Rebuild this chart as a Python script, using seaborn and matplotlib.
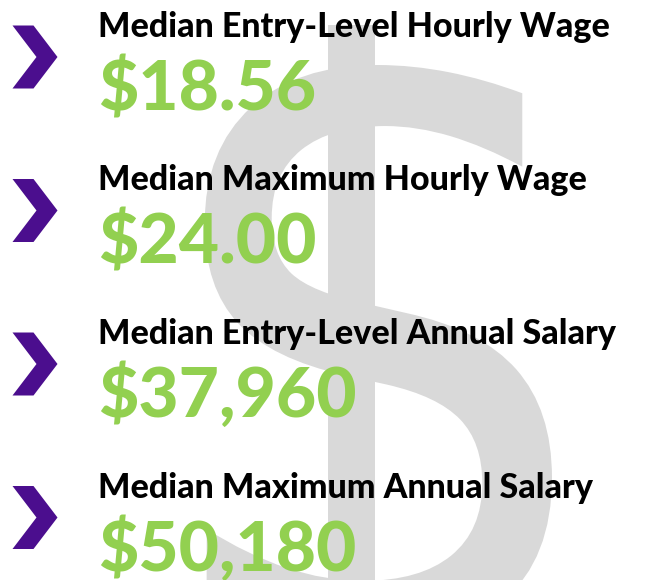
import numpy as np
import matplotlib
matplotlib.use("Agg")
import matplotlib.pyplot as plt
from matplotlib.path import Path
from matplotlib.patches import PathPatch, Rectangle
from matplotlib.textpath import TextPath
from matplotlib.font_manager import FontProperties
from matplotlib.transforms import Affine2D
import seaborn as sns

# Data
labels = [
    "Median Entry-Level Hourly Wage",
    "Median Maximum Hourly Wage",
    "Median Entry-Level Annual Salary",
    "Median Maximum Annual Salary",
]
values = ["$18.56", "$24.00", "$37,960", "$50,180"]

# Colours
purple = "#4b0e8e"
green = "#92d050"
grey = "#d9d9d9"

sns.set_theme(style="white")
plt.rcParams["font.family"] = ["Lato", "DejaVu Sans"]

W, H = 647, 580
fig = plt.figure(figsize=(W / 100, H / 100), dpi=100)
ax = fig.add_axes([0, 0, 1, 1])
ax.set_xlim(0, W)
ax.set_ylim(H, 0)
ax.axis("off")

# big background dollar sign: an "S" stretched into a box plus a vertical bar
s_path = TextPath((0, 0), "S", size=100, prop=FontProperties(family="DejaVu Sans"))
v = s_path.vertices
x0, x1 = v[:, 0].min(), v[:, 0].max()
y0, y1 = v[:, 1].min(), v[:, 1].max()
box_l, box_r, box_t, box_b = 160, 552, 65, 642
tr = (Affine2D().translate(-x0, -y1)
      .scale((box_r - box_l) / (x1 - x0), -(box_b - box_t) / (y1 - y0))
      .translate(box_l, box_t))
ax.add_patch(PathPatch(tr.transform_path(s_path), color=grey, lw=0, zorder=0))
ax.add_patch(Rectangle((328, 25), 47, 640, color=grey, lw=0, zorder=0))

# chevron marker
chev = Path([(-22.5, 31.5), (-1.5, 31.5), (22.5, 0), (-1.5, -31.5),
             (-22.5, -31.5), (1.5, 0), (-22.5, 31.5)],
            [Path.MOVETO] + [Path.LINETO] * 5 + [Path.CLOSEPOLY])

rows = np.arange(len(labels))
row_step = 153.5
chev_x = np.full(len(labels), 35.0)
chev_y = 57 + rows * row_step
sns.scatterplot(x=chev_x, y=chev_y, marker=chev, s=(63 * 0.72) ** 2,
                color=purple, edgecolor="none", ax=ax, legend=False, zorder=3)
ax.set_xlim(0, W)
ax.set_ylim(H, 0)

titles = []
for i, (lab, val) in enumerate(zip(labels, values)):
    yo = i * row_step
    t = ax.text(98, 37 + yo, lab, fontsize=22, fontweight="black", color="black",
                ha="left", va="baseline", zorder=4)
    titles.append(t)
    ax.text(98, 110 + yo, val, fontsize=50, fontweight="black", color=green,
            ha="left", va="baseline", zorder=4)

# fit title size so the first title spans about the same width as the original
fig.canvas.draw()
w = titles[0].get_window_extent(fig.canvas.get_renderer()).width
size = 22 * 509 / w
for t in titles:
    t.set_fontsize(size)

fig.savefig("out.png", dpi=100)
